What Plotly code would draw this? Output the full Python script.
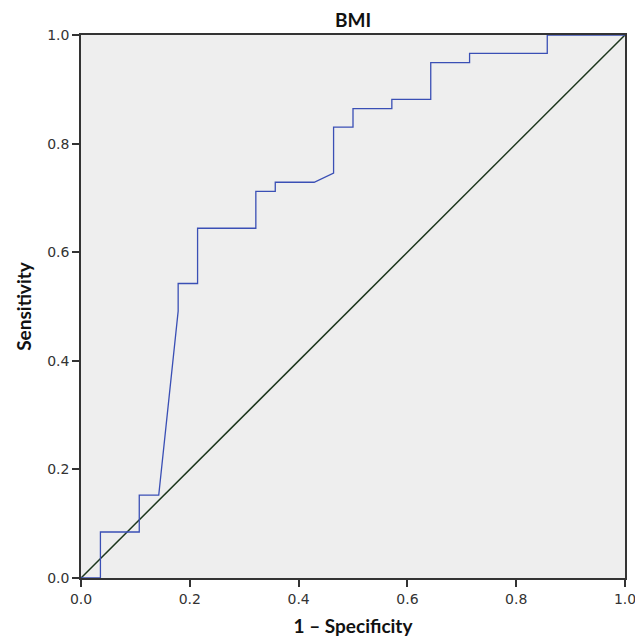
import plotly.graph_objects as go

# ROC curve data (1 - specificity, sensitivity)
fpr = [0.0, 0.0357, 0.0357, 0.1071, 0.1071, 0.1429, 0.1786, 0.1786, 0.2143, 0.2143,
       0.3214, 0.3214, 0.3571, 0.3571, 0.4286, 0.4643, 0.4643, 0.5, 0.5, 0.5714,
       0.5714, 0.6429, 0.6429, 0.7143, 0.7143, 0.8571, 0.8571, 1.0]
tpr = [0.0, 0.0, 0.0847, 0.0847, 0.1525, 0.1525, 0.4915, 0.5424, 0.5424, 0.6441,
       0.6441, 0.7119, 0.7119, 0.7288, 0.7288, 0.7458, 0.8305, 0.8305, 0.8644, 0.8644,
       0.8814, 0.8814, 0.9492, 0.9492, 0.9661, 0.9661, 1.0, 1.0]
ref_x = [0.0, 1.0]
ref_y = [0.0, 1.0]
tick_vals = [0.0, 0.2, 0.4, 0.6, 0.8, 1.0]
tick_text = ["0.0", "0.2", "0.4", "0.6", "0.8", "1.0"]

fig = go.Figure()
fig.add_trace(go.Scatter(x=ref_x, y=ref_y, mode="lines",
                         line=dict(color="#1c361c", width=1.5), cliponaxis=False,
                         showlegend=False, hoverinfo="skip"))
fig.add_trace(go.Scatter(x=fpr, y=tpr, mode="lines",
                         line=dict(color="#3a4fb5", width=1.3), cliponaxis=False,
                         showlegend=False))

axis_common = dict(range=[0, 1], tickvals=tick_vals, ticktext=tick_text,
                   showgrid=False, zeroline=False, showline=True, mirror=True,
                   linecolor="#333333", linewidth=1.5, ticks="outside", ticklen=7,
                   tickcolor="#333333", tickwidth=1.5,
                   tickfont=dict(family="DejaVu Sans", size=14, color="#333333"))

fig.update_layout(
    width=643, height=640,
    margin=dict(l=73, r=26, t=27, b=70),
    paper_bgcolor="white",
    plot_bgcolor="#eeeeee",
    title=dict(text="<b>BMI</b>", x=0.5, xanchor="center", xref="paper",
               y=1, yref="paper", yanchor="bottom", pad=dict(b=8),
               font=dict(family="Lato", size=19, color="#111111")),
    xaxis=dict(**axis_common,
               title=dict(text="<b>1 – Specificity</b>", standoff=14,
                          font=dict(family="Lato", size=19, color="#111111"))),
    yaxis=dict(**axis_common,
               title=dict(text="<b>Sensitivity</b>", standoff=11,
                          font=dict(family="Lato", size=19, color="#111111"))),
)

fig.write_html("out.html")
